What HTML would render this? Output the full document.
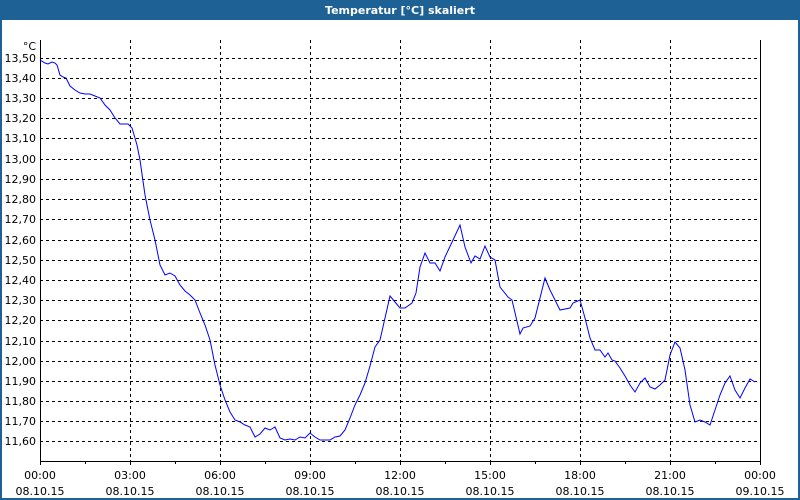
<!DOCTYPE html>
<html><head><style>
body{margin:0;background:#fff;}
svg{display:block;font-family:"DejaVu Sans","Liberation Sans",sans-serif;}
</style></head><body>
<svg width="800" height="500" xmlns="http://www.w3.org/2000/svg">
<rect x="0" y="0" width="800" height="500" fill="#1e6194"/>
<rect x="2" y="20" width="796" height="478" fill="#fff"/>
<text x="400" y="14" fill="#fff" font-size="11" font-weight="bold" text-anchor="middle">Temperatur [°C] skaliert</text>
<g stroke="#000" stroke-dasharray="3,3" stroke-width="1">
<line x1="40" x2="760" y1="58.5" y2="58.5"/><line x1="40" x2="760" y1="78.5" y2="78.5"/><line x1="40" x2="760" y1="98.5" y2="98.5"/><line x1="40" x2="760" y1="118.5" y2="118.5"/><line x1="40" x2="760" y1="138.5" y2="138.5"/><line x1="40" x2="760" y1="159.5" y2="159.5"/><line x1="40" x2="760" y1="179.5" y2="179.5"/><line x1="40" x2="760" y1="199.5" y2="199.5"/><line x1="40" x2="760" y1="219.5" y2="219.5"/><line x1="40" x2="760" y1="240.5" y2="240.5"/><line x1="40" x2="760" y1="260.5" y2="260.5"/><line x1="40" x2="760" y1="280.5" y2="280.5"/><line x1="40" x2="760" y1="300.5" y2="300.5"/><line x1="40" x2="760" y1="320.5" y2="320.5"/><line x1="40" x2="760" y1="341.5" y2="341.5"/><line x1="40" x2="760" y1="361.5" y2="361.5"/><line x1="40" x2="760" y1="381.5" y2="381.5"/><line x1="40" x2="760" y1="401.5" y2="401.5"/><line x1="40" x2="760" y1="421.5" y2="421.5"/><line x1="40" x2="760" y1="441.5" y2="441.5"/>
<line x1="130.5" x2="130.5" y1="40" y2="461"/><line x1="220.5" x2="220.5" y1="40" y2="461"/><line x1="310.5" x2="310.5" y1="40" y2="461"/><line x1="400.5" x2="400.5" y1="40" y2="461"/><line x1="490.5" x2="490.5" y1="40" y2="461"/><line x1="580.5" x2="580.5" y1="40" y2="461"/><line x1="670.5" x2="670.5" y1="40" y2="461"/>
</g>
<g stroke="#000" stroke-width="1">
<line x1="40.5" x2="40.5" y1="40" y2="462"/><line x1="760.5" x2="760.5" y1="40" y2="462"/><line x1="40" x2="761" y1="461.5" y2="461.5"/>
<path d="M40.5 461v4M85.5 461v3M130.5 461v4M175.5 461v3M220.5 461v4M265.5 461v3M310.5 461v4M355.5 461v3M400.5 461v4M445.5 461v3M490.5 461v4M535.5 461v3M580.5 461v4M625.5 461v3M670.5 461v4M715.5 461v3M760.5 461v4"/>
</g>
<g font-size="11" fill="#000" text-anchor="end">
<text x="36" y="50">°C</text>
<text x="36" y="62">13,50</text><text x="36" y="82">13,40</text><text x="36" y="102">13,30</text><text x="36" y="122">13,20</text><text x="36" y="142">13,10</text><text x="36" y="163">13,00</text><text x="36" y="183">12,90</text><text x="36" y="203">12,80</text><text x="36" y="223">12,70</text><text x="36" y="244">12,60</text><text x="36" y="264">12,50</text><text x="36" y="284">12,40</text><text x="36" y="304">12,30</text><text x="36" y="324">12,20</text><text x="36" y="345">12,10</text><text x="36" y="365">12,00</text><text x="36" y="385">11,90</text><text x="36" y="405">11,80</text><text x="36" y="425">11,70</text><text x="36" y="445">11,60</text>
</g>
<g font-size="11" fill="#000" text-anchor="middle">
<text x="40" y="479">00:00</text><text x="40" y="495">08.10.15</text>
<text x="130" y="479">03:00</text><text x="130" y="495">08.10.15</text>
<text x="220" y="479">06:00</text><text x="220" y="495">08.10.15</text>
<text x="310" y="479">09:00</text><text x="310" y="495">08.10.15</text>
<text x="400" y="479">12:00</text><text x="400" y="495">08.10.15</text>
<text x="490" y="479">15:00</text><text x="490" y="495">08.10.15</text>
<text x="580" y="479">18:00</text><text x="580" y="495">08.10.15</text>
<text x="670" y="479">21:00</text><text x="670" y="495">08.10.15</text>
<text x="760" y="479">00:00</text><text x="760" y="495">09.10.15</text>
</g>
<polyline fill="none" stroke="#0000ff" stroke-width="1" points="40,60 45,63 48,64 52,62 55,63 57,65 60,75 63,77 66,78 70,86 75,90 80,93 85,94 90,94 95,96 100,98 105,105 110,110 115,118 120,124 128,124 132,128 137,145 140,160 145,195 150,220 155,240 160,265 165,275 170,273 175,276 180,285 185,291 190,295 195,300 200,313 205,325 210,340 215,365 220,385 225,400 230,412 235,420 240,422 245,425 250,427 255,437 260,434 265,428 270,430 275,427 280,438 285,440 290,439 295,440 300,437 305,438 310,433 315,437 320,440 330,440 335,437 340,436 345,430 350,418 355,405 360,395 365,383 370,366 375,347 380,340 385,318 390,296 395,302 400,308 405,308 412,303 416,293 420,267 425,253 430,263 435,263 440,271 445,257 453,240 460,225 465,247 471,263 475,256 480,259 485,246 490,257 495,260 500,287 508,297 512,300 520,334 523,328 530,326 535,318 545,278 550,290 555,300 560,310 570,308 573,303 580,300 585,318 590,338 595,350 600,350 605,357 608,353 612,360 615,361 620,368 625,376 630,385 635,392 640,383 645,378 650,387 655,389 660,385 665,380 670,355 675,342 680,348 685,370 690,405 695,422 700,420 705,422 710,425 715,410 720,395 725,383 730,376 735,390 740,398 745,388 750,379 755,382"/>
</svg>
</body></html>
